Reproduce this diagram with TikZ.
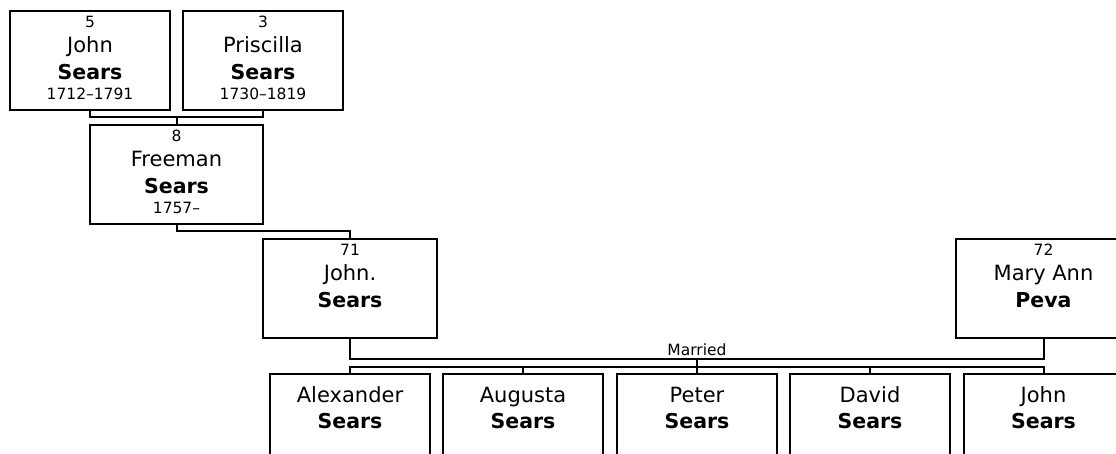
\documentclass[tikz,border=0pt]{standalone}
\usepackage{fontspec}
\setmainfont{DejaVu Sans}
\tikzset{
  pbox/.style={draw, line width=2pt, inner sep=0pt, minimum height=99pt},
  wire/.style={line width=2pt},
  small/.style={anchor=base, inner sep=0pt, font=\fontsize{15.5}{18}\selectfont},
  fname/.style={anchor=base, inner sep=0pt, font=\fontsize{21}{24}\selectfont},
  sname/.style={anchor=base, inner sep=0pt, font=\fontsize{20.5}{24}\selectfont\bfseries},
}
\newcommand\parentbox[8]{% id, x, ytop, width, number, first, surname, dates
  \node[pbox, minimum width=#4pt] (#1) at (#2,#3+49.5) {};
  \node[small] (#1num) at (#2,#3+16.5) {#5};
  \node[fname] (#1first) at (#2,#3+41.5) {#6};
  \node[sname] (#1sur) at (#2,#3+68) {#7};
  \node[small] (#1dates) at (#2,#3+88) {#8};
}
\newcommand\childbox[4]{% id, x, first, surname
  \node[pbox, minimum width=160pt] (#1) at (#2,373.5+49.5) {};
  \node[fname] (#1first) at (#2,373.5+29) {#3};
  \node[sname] (#1sur) at (#2,373.5+54.5) {#4};
}
\begin{document}
\begin{tikzpicture}[x=1pt,y=-1pt]
\useasboundingbox (0,0) rectangle (1116,453);
\clip (0,0) rectangle (1116,453);
\fill[white] (0,0) rectangle (1116,453);

\parentbox{p5}{90}{11}{160}{5}{John}{Sears}{1712–1791}
\parentbox{p3}{263}{11}{160}{3}{Priscilla}{Sears}{1730–1819}
\parentbox{p8}{176.5}{125}{173}{8}{Freeman}{Sears}{1757–}
\parentbox{p71}{350}{239}{174.5}{71}{John.}{Sears}{}
\parentbox{p72}{1043.5}{239}{174.5}{72}{Mary Ann}{Peva}{}

\childbox{c1}{350}{Alexander}{Sears}
\childbox{c2}{523}{Augusta}{Sears}
\childbox{c3}{697}{Peter}{Sears}
\childbox{c4}{870}{David}{Sears}
\childbox{c5}{1043.5}{John}{Sears}

% parents of Freeman
\coordinate (u1) at (176.5,117);
\draw[wire] (p5.south) |- (u1) -| (p3.south);
\draw[wire] (u1) -- (p8.north);

% Freeman to John.
\coordinate (u2) at (176.5,230.5);
\draw[wire] (p8.south) -- (u2) -| (p71.north);

% marriage
\coordinate (m) at (697,359);
\draw[wire] (p71.south) |- (m) -| (p72.south);
\node[small] (married) at (697,355) {Married};

% children
\coordinate (cb) at (697,366.5);
\draw[wire] (m) -- (cb);
\draw[wire] (c1.north) |- (cb) -| (c5.north);
\foreach \c in {c2,c3,c4} \draw[wire] (\c.north) -- (\c.north |- cb);
\end{tikzpicture}
\end{document}
